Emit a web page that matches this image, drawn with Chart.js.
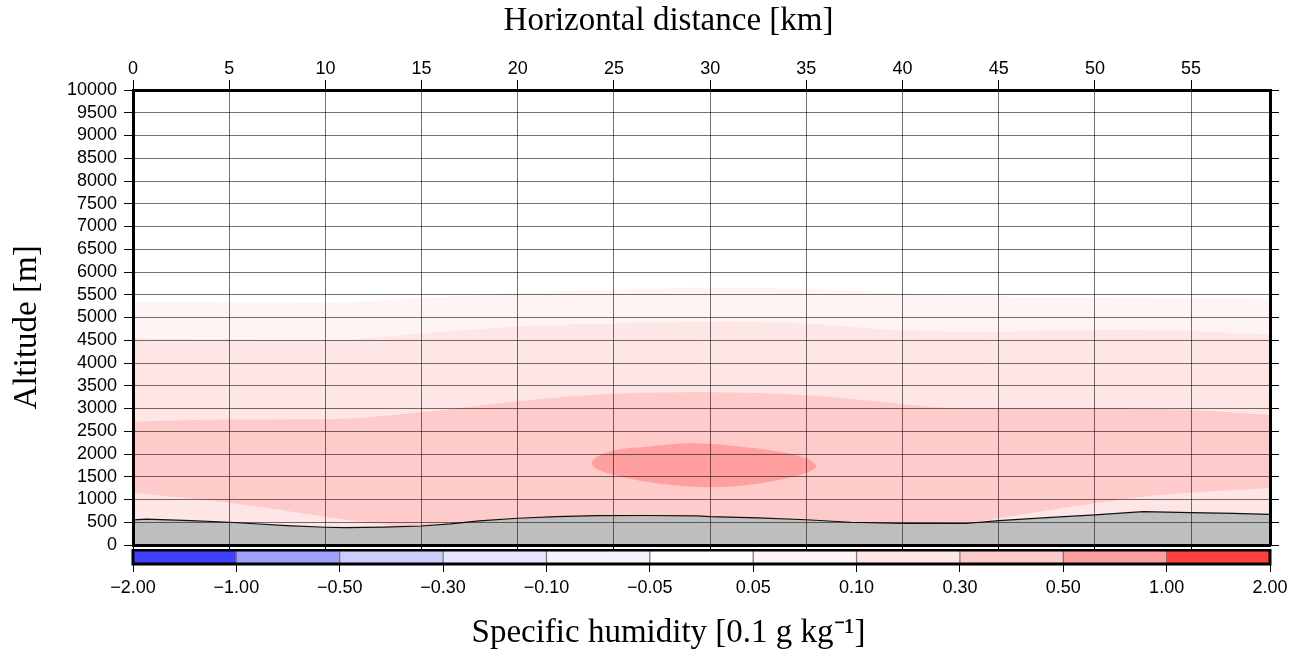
<!DOCTYPE html>
<html>
<head>
<meta charset="utf-8">
<script src="https://cdn.jsdelivr.net/npm/chart.js@4.4.1/dist/chart.umd.min.js"></script>
<style>
  body { margin: 0; background: #fff; }
  #wrap { position: relative; width: 1301px; height: 653px; }
  canvas { position: absolute; left: 0; }
  #section { top: 0; }
  #colorbar { top: 549px; }
</style>
</head>
<body>
<div id="wrap">
  <canvas id="section" width="1301" height="653"></canvas>
  <canvas id="colorbar" width="1301" height="104"></canvas>
</div>
<script>
// Axis ticks
const distanceTicks = [0, 5, 10, 15, 20, 25, 30, 35, 40, 45, 50, 55];
const altitudeTicks = [0, 500, 1000, 1500, 2000, 2500, 3000, 3500, 4000, 4500, 5000,
  5500, 6000, 6500, 7000, 7500, 8000, 8500, 9000, 9500, 10000];

// Terrain profile (km, m)
const terrainKm = [0, 0.7, 3, 5, 8, 10, 11, 13, 15, 16.5, 18, 20, 22, 24.1, 26.5, 29.3, 30, 32.5, 35, 37.3, 40, 43.3, 45, 47.5, 50, 52.5, 55, 57.2, 59.1];
const terrainAlt = [550, 570, 535, 500, 425, 390, 380, 395, 418, 465, 530, 588, 625, 645, 648, 640, 625, 595, 555, 500, 475, 472, 535, 600, 660, 732, 712, 696, 674];

// Contour 0.05 (top of the faint pink layer)
const q005Km = [0, 5, 10, 15, 20, 25, 30, 35, 40, 45, 50, 55, 59.1];
const q005Alt = [5350, 5340, 5330, 5430, 5540, 5610, 5660, 5630, 5530, 5460, 5440, 5420, 5400];

// Contour 0.10
const q010Km = [0, 5, 10, 15, 20, 25, 30, 35, 40, 45, 50, 55, 59.1];
const q010Alt = [4540, 4530, 4505, 4650, 4800, 4870, 4905, 4870, 4720, 4690, 4725, 4705, 4620];

// Contour 0.30, upper and lower edge
const q030TopKm = [0, 5, 10, 15, 20, 25, 30, 35, 40, 42, 45, 50, 55, 59.1];
const q030TopAlt = [2710, 2760, 2765, 2920, 3160, 3325, 3355, 3290, 3100, 3020, 3005, 3005, 2965, 2855];
const q030LowKm = [0, 5, 10, 12, 13.5, 15, 42, 43.5, 45, 47.5, 50, 52.5, 55, 59.1];
const q030LowAlt = [1150, 930, 620, 500, 430, 300, 300, 470, 590, 760, 916, 1062, 1150, 1245];

// Contour 0.50 (core), upper and lower edge
const q050TopKm = [23.83, 23.95, 24.3, 25, 26.7, 29, 31.9, 33.6, 35, 35.4, 35.53];
const q050TopAlt = [1795, 1880, 1970, 2075, 2160, 2235, 2145, 2050, 1905, 1800, 1722];
const q050BotKm = [23.83, 23.95, 24.3, 25, 26.7, 29.9, 31.9, 33.6, 35, 35.4, 35.53];
const q050BotAlt = [1795, 1720, 1630, 1540, 1390, 1270, 1320, 1430, 1590, 1670, 1722];

// Colour scale
const colorbarLabels = ["\u22122.00", "\u22121.00", "\u22120.50", "\u22120.30", "\u22120.10", "\u22120.05",
  "0.05", "0.10", "0.30", "0.50", "1.00", "2.00"];
const colorbarColors = ["#4040ff", "#a0a0ff", "#ccccff", "#e6e6ff", "#f4f4ff", "#ffffff",
  "#fff4f4", "#ffe6e6", "#ffcaca", "#ff9f9f", "#ff4040"];

const sansFont = '"Liberation Sans", Arial, Helvetica, sans-serif';
const serifFont = '"Liberation Serif", "Times New Roman", serif';
// trailing spaces nudge the centred titles to where the original puts them
const EM = "\u2003";

function toPoints(xs, ys) {
  return xs.map((x, i) => ({ x: x, y: ys[i] }));
}

function band(label, xs, ys, color, fill) {
  return {
    label: label,
    data: toPoints(xs, ys),
    backgroundColor: color,
    borderColor: "transparent",
    borderWidth: 0,
    pointRadius: 0,
    fill: fill,
    cubicInterpolationMode: "monotone",
  };
}

function setTicks(values) {
  return function (scale) {
    scale.ticks = values.map((v) => ({ value: v }));
  };
}

const gridStyle = {
  color: "rgba(0,0,0,0.55)",
  lineWidth: 1,
  z: 1,
  tickLength: 10,
  tickColor: "#000",
  tickWidth: 1,
};
const frameStyle = { display: true, color: "#000", width: 3, z: 2 };

// Cross section
new Chart(document.getElementById("section"), {
  type: "line",
  data: {
    datasets: [
      {
        label: "terrain",
        data: toPoints(terrainKm, terrainAlt),
        backgroundColor: "#bebebe",
        borderColor: "#111",
        borderWidth: 1.2,
        pointRadius: 0,
        fill: "origin",
        tension: 0,
      },
      band("q050 top", q050TopKm, q050TopAlt, "#ff9f9f", { target: 2 }),
      band("q050 bottom", q050BotKm, q050BotAlt, "transparent", false),
      band("q030 top", q030TopKm, q030TopAlt, "#ffcaca", { target: 4 }),
      band("q030 low", q030LowKm, q030LowAlt, "transparent", false),
      band("q010", q010Km, q010Alt, "#ffe6e6", "origin"),
      band("q005", q005Km, q005Alt, "#fff4f4", "origin"),
    ],
  },
  options: {
    responsive: false,
    animation: false,
    layout: { padding: 0 },
    plugins: { legend: { display: false }, tooltip: { enabled: false } },
    scales: {
      x: {
        type: "linear",
        position: "top",
        min: 0,
        max: 59.1,
        afterBuildTicks: setTicks(distanceTicks),
        afterFit: (s) => { s.height = 90; },
        grid: gridStyle,
        border: frameStyle,
        ticks: { color: "#000", font: { family: sansFont, size: 18 }, padding: 0, maxRotation: 0, autoSkip: false },
        title: {
          display: true,
          text: "Horizontal distance [km]" + EM + EM,
          color: "#000",
          font: { family: serifFont, size: 33 },
          padding: { top: 2, bottom: 0 },
        },
      },
      xBottom: {
        type: "linear",
        position: "bottom",
        min: 0,
        max: 59.1,
        afterBuildTicks: setTicks(distanceTicks),
        afterFit: (s) => { s.height = 108; },
        grid: { drawOnChartArea: false, tickLength: 4, tickColor: "#000", z: 1 },
        border: frameStyle,
        ticks: { display: false },
      },
      y: {
        type: "linear",
        position: "left",
        min: 0,
        max: 10000,
        afterBuildTicks: setTicks(altitudeTicks),
        afterFit: (s) => { s.width = 133; },
        grid: Object.assign({}, gridStyle, { tickLength: 9 }),
        border: frameStyle,
        ticks: {
          color: "#000",
          font: { family: sansFont, size: 18 },
          padding: 7,
          autoSkip: false,
          callback: (value) => String(value),
        },
        title: {
          display: true,
          text: "Altitude [m]" + "\u2009\u2009\u2009",
          color: "#000",
          font: { family: serifFont, size: 33 },
          padding: { top: 8, bottom: 0 },
        },
      },
      yRight: {
        type: "linear",
        position: "right",
        min: 0,
        max: 10000,
        afterBuildTicks: setTicks(altitudeTicks),
        afterFit: (s) => { s.width = 31; },
        grid: { drawOnChartArea: false, tickLength: 9, tickColor: "#000", z: 1 },
        border: frameStyle,
        ticks: { display: false },
      },
    },
  },
});

// Frame around the colour bar
const barFrame = {
  id: "barFrame",
  afterDatasetsDraw(chart) {
    const a = chart.chartArea;
    const ctx = chart.ctx;
    ctx.save();
    ctx.strokeStyle = "#000";
    ctx.lineWidth = 3;
    ctx.strokeRect(a.left, a.top, a.right - a.left, a.bottom - a.top);
    ctx.restore();
  },
};

// Colour bar
new Chart(document.getElementById("colorbar"), {
  type: "bar",
  data: {
    labels: ["scale"],
    datasets: colorbarColors.map((c, i) => ({
      label: colorbarLabels[i],
      data: [[i, i + 1]],
      backgroundColor: c,
      borderColor: "rgba(0,0,0,0.45)",
      borderWidth: 1,
      borderSkipped: false,
      barPercentage: 1,
      categoryPercentage: 1,
      grouped: false,
    })),
  },
  options: {
    indexAxis: "y",
    responsive: false,
    animation: false,
    layout: { padding: { left: 133, right: 31, top: 1, bottom: 0 } },
    plugins: { legend: { display: false }, tooltip: { enabled: false } },
    scales: {
      y: { display: false },
      x: {
        type: "linear",
        min: 0,
        max: 11,
        afterBuildTicks: setTicks(colorbarLabels.map((_, i) => i)),
        afterFit: (s) => { s.height = 89; },
        grid: { drawOnChartArea: false, tickLength: 8, tickColor: "#000" },
        border: { display: false },
        ticks: {
          color: "#000",
          font: { family: sansFont, size: 18 },
          padding: 5,
          maxRotation: 0,
          autoSkip: false,
          callback: (value) => colorbarLabels[value],
        },
        title: {
          display: true,
          text: "Specific humidity [0.1 g kg\u207B\u00B9]" + EM + EM,
          color: "#000",
          font: { family: serifFont, size: 33 },
          padding: { top: 4, bottom: 0 },
        },
      },
    },
  },
  plugins: [barFrame],
});
</script>
</body>
</html>
